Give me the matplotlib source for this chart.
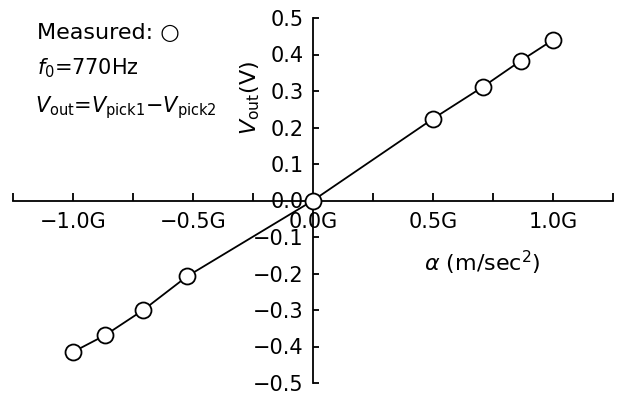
import matplotlib
matplotlib.use("Agg")
import matplotlib.pyplot as plt
from matplotlib.ticker import FixedLocator

# measured acceleration (in G) and output voltage (V)
accel = [-1.0, -0.866, -0.707, -0.525, 0.0, 0.5, 0.707, 0.866, 1.0]
vout = [-0.415, -0.369, -0.30, -0.208, 0.0, 0.224, 0.311, 0.383, 0.44]

xmajor = [-1.0, -0.5, 0.0, 0.5, 1.0]
xlabels = ["\u22121.0G", "\u22120.5G", "0.0G", "0.5G", "1.0G"]
xminor = [-1.25, -0.75, -0.25, 0.25, 0.75, 1.25]
yticks = [-0.5, -0.4, -0.3, -0.2, -0.1, 0.0, 0.1, 0.2, 0.3, 0.4, 0.5]

plt.rcParams["font.family"] = ["DejaVu Sans"]
plt.rcParams["mathtext.fontset"] = "dejavusans"


def main():
    W, H = 617, 394
    fig = plt.figure(figsize=(W / 100, H / 100), dpi=100)
    ax = fig.add_axes([13 / W, 11 / H, 600 / W, 365 / H])
    ax.set_xlim(-1.25, 1.25)
    ax.set_ylim(-0.5, 0.5)

    ax.plot(accel, vout, color="black", lw=1.3, marker="o", ms=11.5,
            mfc="white", mec="black", mew=1.3, zorder=4, clip_on=False)

    ax.spines["top"].set_visible(False)
    ax.spines["right"].set_visible(False)
    ax.spines["left"].set_position(("data", 0))
    ax.spines["bottom"].set_position(("data", 0))
    for s in ("left", "bottom"):
        ax.spines[s].set_linewidth(1.3)

    ax.xaxis.set_major_locator(FixedLocator(xmajor))
    ax.xaxis.set_minor_locator(FixedLocator(xminor))
    ax.set_xticklabels(xlabels)
    ax.set_yticks(yticks)
    ax.set_yticklabels([f"{v:.1f}".replace("-", "\u2212") for v in yticks])

    ax.tick_params(axis="x", which="both", direction="in", length=6,
                   width=1.3, labelsize=15, pad=8)
    ax.tick_params(axis="y", direction="in", length=4.5, width=1.3,
                   labelsize=15, pad=7)

    fig.text(250 / W, 1 - 98 / H, r"$V_{\rm out}$(V)", rotation=90,
             ha="center", va="center", fontsize=16)
    fig.text(482 / W, 1 - 263 / H, r"$\alpha$ (m/sec$^2$)",
             ha="center", va="center", fontsize=16)

    fig.text(37 / W, 1 - 33 / H, "Measured: \u25cb", ha="left",
             va="center", fontsize=16)
    fig.text(37 / W, 1 - 68 / H, r"$f_0$=770Hz", ha="left",
             va="center", fontsize=15)
    fig.text(35 / W, 1 - 108 / H,
             r"$V_{\rm out}$=$V_{\rm pick1}$$-$$V_{\rm pick2}$",
             ha="left", va="center", fontsize=15)

    fig.savefig("out.png", dpi=100)


if __name__ == "__main__":
    main()
